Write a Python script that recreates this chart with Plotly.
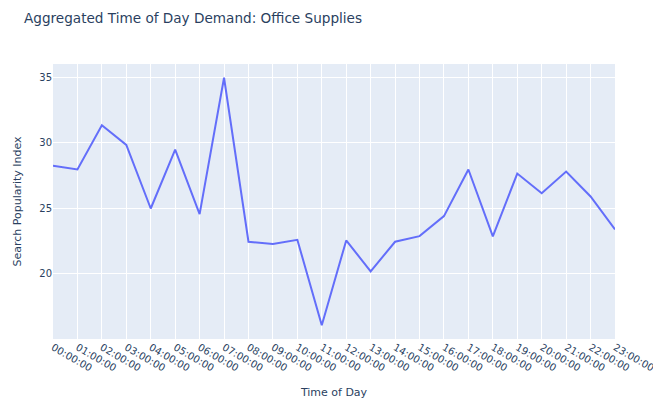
import plotly.graph_objects as go

# hourly buckets
hours = [f"{h:02d}:00:00" for h in range(24)]
popularity = [
    28.24, 27.96, 31.34, 29.84, 24.98, 29.48, 24.55, 34.97,
    22.44, 22.26, 22.59, 16.06, 22.54, 20.18, 22.44, 22.87,
    24.40, 27.96, 22.85, 27.65, 26.15, 27.80, 25.90, 23.38,
]

fig = go.Figure()
fig.add_trace(
    go.Scatter(
        x=hours,
        y=popularity,
        mode="lines",
        line={"color": "#636efa", "width": 2},
    )
)

# page body has an 8px margin, so the figure is sized to fit the window
fig.update_layout(
    title={
        "text": "Aggregated Time of Day Demand: Office Supplies",
        "x": 16 / 653,
        "xanchor": "left",
        "y": 1 - 10 / 394,
        "yanchor": "middle",
        "font": {"size": 13.6},
    },
    font={"family": "DejaVu Sans", "size": 10},
    xaxis_title="Time of Day",
    yaxis_title="Search Popularity Index",
    template="plotly",
    width=653,
    height=394,
    margin={"l": 45, "r": 46, "t": 56, "b": 63},
)
fig.update_xaxes(tickangle=30, automargin=False, title_font_size=11)
fig.update_yaxes(automargin=False, title_font_size=11)

fig.write_html("out.html")
